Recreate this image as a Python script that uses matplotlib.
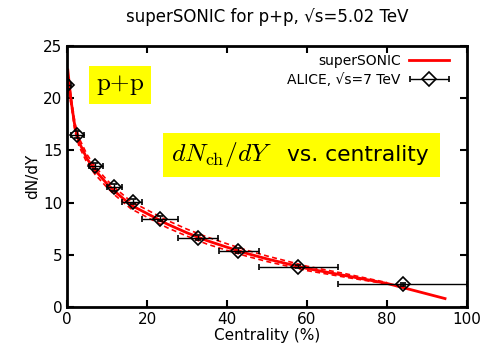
import matplotlib
matplotlib.use("Agg")
import matplotlib.pyplot as plt
from matplotlib.legend_handler import HandlerErrorbar
from matplotlib.patches import Rectangle
import numpy as np

plt.rcParams['mathtext.fontset'] = 'cm'
plt.rcParams['font.family'] = ['DejaVu Sans']

# ALICE data
alice_x = [0.1, 2.6, 7.0, 11.75, 16.4, 23.25, 32.8, 42.8, 57.8, 84.0]
alice_y = [21.3, 16.5, 13.5, 11.45, 10.1, 8.45, 6.65, 5.4, 3.85, 2.15]
alice_xlo = [0.0, 1.0, 5.6, 9.9, 13.7, 18.7, 27.8, 37.9, 47.9, 67.75]
alice_xhi = [1.0, 4.2, 9.0, 13.7, 18.7, 27.8, 37.8, 47.9, 67.75, 100.0]
alice_yerr = [0.4, 0.35, 0.3, 0.3, 0.25, 0.25, 0.2, 0.2, 0.15, 0.1]

# superSONIC curve
sonic_x = [0.2, 1, 2, 3, 5, 7, 10, 12, 16, 20, 25, 30, 35, 40, 45, 50, 60, 70, 80, 90, 94.5]
sonic_y = [22.7, 19.8, 17.2, 15.8, 14.2, 13.1, 11.8, 11.05, 9.75, 8.95, 7.95, 7.1, 6.35, 5.72, 5.12, 4.6, 3.68, 2.97, 2.25, 1.25, 0.8]

band_x = [0.5, 1, 2, 3, 5, 7, 10, 12, 16, 20, 25, 30, 35, 40, 45, 50, 60, 70, 80]
band_hi = [21.5, 20.2, 17.6, 16.2, 14.6, 13.45, 12.15, 11.4, 10.1, 9.3, 8.3, 7.45, 6.7, 6.05, 5.42, 4.88, 3.9, 3.15, 2.33]
band_lo = [20.6, 19.4, 16.8, 15.4, 13.8, 12.7, 11.45, 10.7, 9.4, 8.6, 7.6, 6.78, 6.02, 5.42, 4.85, 4.35, 3.48, 2.82, 2.2]

fig = plt.figure(figsize=(4.87, 3.54), dpi=100)
ax = fig.add_axes([0.1376, 0.133, 0.8214, 0.737])

ax.plot(band_x, band_hi, color='red', lw=1.2, ls=(0, (3, 2)))
ax.plot(band_x, band_lo, color='red', lw=1.2, ls=(0, (3, 2)))
line, = ax.plot(sonic_x, sonic_y, color='red', lw=2)

ax_ = np.array(alice_x)
xerr = [ax_ - np.array(alice_xlo), np.array(alice_xhi) - ax_]
ax.errorbar(alice_x, alice_y, xerr=xerr, yerr=alice_yerr, fmt='D', mfc='none',
            mec='black', ms=7, mew=1.2, ecolor='black', elinewidth=1, capsize=2,
            color='black', zorder=5)

# legend proxy (x error only)
proxy = ax.errorbar([np.nan], [np.nan], xerr=[1], fmt='D', mfc='none', mec='black',
                    ms=7, mew=1.2, ecolor='black', elinewidth=1, capsize=2, color='black')

ax.set_xlim(0, 100)
ax.set_ylim(0, 25)
ax.set_xticks([0, 20, 40, 60, 80, 100])
ax.set_yticks([0, 5, 10, 15, 20, 25])
ax.tick_params(direction='in', top=True, right=True, length=5, width=1.5, labelsize=11)
for s in ax.spines.values():
    s.set_linewidth(2)
ax.set_xlabel('Centrality (%)', fontsize=11, labelpad=1)
ax.set_ylabel('dN/dY', fontsize=11, labelpad=2)
ax.set_title('superSONIC for p+p, √s=5.02 TeV', fontsize=12, pad=17)

ax.legend([line, proxy], ['superSONIC', 'ALICE, √s=7 TeV'], loc='upper right',
          bbox_to_anchor=(0.98, 1.008),
          frameon=False, markerfirst=False, fontsize=10, handlelength=2.9,
          handletextpad=0.6, borderaxespad=0.3, labelspacing=0.4,
          handler_map={type(proxy): HandlerErrorbar(xerr_size=1.4)})

ax.text(13.3, 21.3, r'$\mathrm{p}{+}\mathrm{p}$', fontsize=18, ha='center', va='center',
        bbox=dict(facecolor='yellow', edgecolor='none', pad=5))

ax.add_patch(Rectangle((24.0, 12.45), 69.25, 4.22, facecolor='yellow', edgecolor='none', zorder=3))
ax.text(26.0, 14.56, r'$dN_{\rm ch}/dY$', fontsize=18.5, ha='left', va='center', zorder=4)
ax.text(55.0, 14.56, 'vs. centrality', fontsize=15.7, ha='left', va='center', zorder=4)

fig.savefig('out.png', dpi=100)
